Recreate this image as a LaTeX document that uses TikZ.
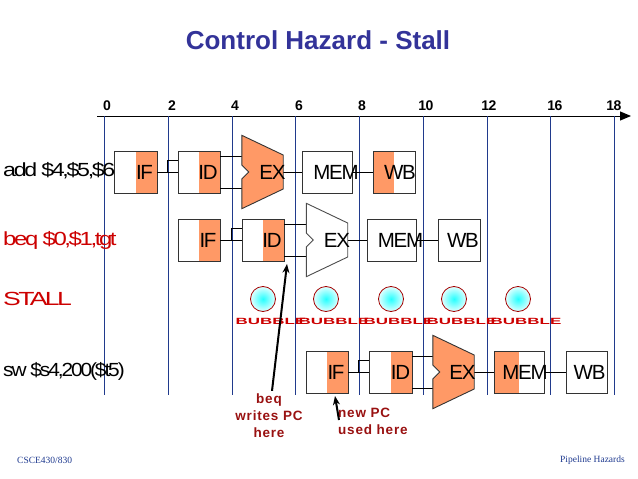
\documentclass[tikz,border=0pt]{standalone}
\usepackage{fontspec}
\setmainfont{Liberation Serif}
\newfontfamily\arial{Liberation Sans}
\newfontfamily\sq[LetterSpace=-6]{Liberation Sans}
\newfontfamily\sqr[LetterSpace=-10]{Liberation Sans}
\newfontfamily\sqb[LetterSpace=-4]{Liberation Sans Bold}
\newfontfamily\spb[LetterSpace=6]{Liberation Sans Bold}
\usetikzlibrary{arrows.meta,calc}
\definecolor{orng}{HTML}{FF9966}
\definecolor{gridc}{HTML}{203A8C}
\definecolor{ttl}{HTML}{333399}
\definecolor{lred}{HTML}{CC0000}
\definecolor{dred}{HTML}{991111}
\definecolor{ftblue}{HTML}{1F3A8F}
\definecolor{boxc}{HTML}{333333}
\newcommand\rl[2]{\scalebox{#1}[1]{#2}}
\newcommand\aluShape[2]{\draw[#2] (#1.north west) -- ($(#1.east)+(0,-17)$) -- ($(#1.east)+(0,17)$) -- (#1.south west) -- ($(#1.west)+(0,7)$) -- ($(#1.west)+(7,0)$) -- ($(#1.west)+(0,-7)$) -- cycle;}
\newcommand\stageLinks[4]{%
  \draw[conn] (#1.east) -- (#2.west);
  \draw[conn] ($(#2.west)+(-10,0)$) |- ($(#2.west)+(0,-12)$);
  \draw[conn] ($(#2.east)+(0,-16)$) -- ($(#3.west)+(0,-16)$);
  \draw[conn] ($(#2.east)+(0,16)$) -- ($(#3.west)+(0,16)$);
  \draw[conn] (#3.east) -- (#4.west);}
\begin{document}
\begin{tikzpicture}[x=1pt,y=-1pt,
  stagebox/.style={draw=boxc, line width=0.9pt, minimum width=42pt, minimum height=42pt, inner sep=0pt, fill=white},
  orR/.style={path picture={\fill[orng] (path picture bounding box.north) rectangle (path picture bounding box.south east);}},
  orL/.style={path picture={\fill[orng] (path picture bounding box.north west) rectangle (path picture bounding box.south);}},
  alunode/.style={minimum width=41pt, minimum height=73pt, inner sep=0pt},
  conn/.style={draw=black, line width=0.7pt},
  stxt/.style={font=\sq\fontsize{20.5}{20.5}\selectfont, inner sep=0pt},
  rowlbl/.style={font=\sqr\fontsize{19}{19}\selectfont, anchor=west, inner sep=0pt},
  gridl/.style={draw=gridc, line width=0.7pt},
  tick/.style={font=\sqb\fontsize{14}{14}\selectfont, inner sep=0pt},
  bubble/.style={circle, draw=lred!80!black, line width=0.8pt, minimum size=25pt, inner sep=0pt, inner color=cyan!85, outer color=cyan!12},
  bubtxt/.style={font=\bfseries\arial\fontsize{15}{15}\selectfont, text=lred, inner sep=0pt},
  ann/.style={font=\spb\fontsize{13.5}{17}\selectfont, text=dred, inner sep=0pt},
  pcarrow/.style={line width=2pt, -{Stealth[length=9pt,width=7pt]}},
  foot/.style={font=\fontsize{9.5}{10}\selectfont, text=ftblue, inner sep=0pt}]
\useasboundingbox (0,0) rectangle (638,479);
% title
\node[font=\arial\bfseries\fontsize{26}{26}\selectfont, text=ttl] (title) at (318,40) {Control Hazard - Stall};
% axis and grid
\draw[line width=1pt, -{Triangle[length=11pt,width=9pt]}] (97,116) -- (631,116);
\foreach \x/\l/\dx in {104/0/3,168/2/4,232/4/3,295/6/4,359/8/3,423/10/3,487/12/2,550/16/5,614/18/0}{
  \draw[gridl] (\x,116) -- (\x,395);
  \node[tick] (tk\l) at (\x+\dx,106) {\l};
}
% row 1
\node[stagebox, orR, minimum width=43pt] (if1) at (135.5,172) {};
\node[stagebox, orR] (id1) at (199,172) {};
\node[alunode] (ex1) at (262.5,172) {};
\node[stagebox, minimum width=50pt] (mem1) at (327,172) {};
\node[stagebox, orL] (wb1) at (394,172) {};
\stageLinks{if1}{id1}{ex1}{mem1}
\draw[conn] (mem1.east) -- (wb1.west);
\aluShape{ex1}{fill=orng, draw=boxc, line width=0.9pt}
\node[stxt] (if1t) at ($(if1)+(9,0)$) {IF};
\node[stxt] (id1t) at ($(id1)+(9,0)$) {ID};
\node[stxt] (ex1t) at ($(ex1)+(10,0)$) {EX};
\node[stxt] (mem1t) at ($(mem1)+(9,0)$) {MEM};
\node[stxt] (wb1t) at ($(wb1)+(6,0)$) {WB};
\node[rowlbl] (lbl1) at (3,171) {\rl{1.22}{add \$4,\$5,\$6}};
% row 2
\node[stagebox, orR] (if2) at (199,240) {};
\node[stagebox, orR] (id2) at (263,240) {};
\node[alunode] (ex2) at (327,240) {};
\node[stagebox, minimum width=49pt] (mem2) at (391.5,240) {};
\node[stagebox] (wb2) at (459,240) {};
\stageLinks{if2}{id2}{ex2}{mem2}
\draw[conn] (mem2.east) -- (wb2.west);
\aluShape{ex2}{fill=white, draw=black!70, line width=0.9pt}
\node[stxt] (if2t) at ($(if2)+(9,0)$) {IF};
\node[stxt] (id2t) at ($(id2)+(9,0)$) {ID};
\node[stxt] (ex2t) at ($(ex2)+(10,0)$) {EX};
\node[stxt] (mem2t) at ($(mem2)+(9,0)$) {MEM};
\node[stxt] (wb2t) at ($(wb2)+(4,0)$) {WB};
\node[rowlbl, text=lred] (lbl2) at (3,240) {\rl{1.26}{beq \$0,\$1,tgt}};
% stall row
\node[rowlbl, text=lred] (lbl3) at (3,299) {\rl{1.4}{STALL}};
\foreach \i/\bx in {1/263,2/326,3/391,4/454,5/518}{
  \node[bubble] (b\i) at (\bx,299) {};
  \node[bubtxt] (bt\i) at (\bx+8,321) {\scalebox{1.13}[0.6]{BUBBLE}};
}
% row 4
\node[stagebox, orR] (if4) at (327,372) {};
\node[stagebox, orR, minimum width=43pt] (id4) at (390.5,372) {};
\node[alunode] (ex4) at (453.5,372) {};
\node[stagebox, orL, minimum width=50pt] (mem4) at (519,372) {};
\node[stagebox, minimum width=41pt] (wb4) at (586.5,372) {};
\stageLinks{if4}{id4}{ex4}{mem4}
\draw[conn] (mem4.east) -- (wb4.west);
\aluShape{ex4}{fill=orng, draw=boxc, line width=0.9pt}
\node[stxt] (if4t) at ($(if4)+(9,0)$) {IF};
\node[stxt] (id4t) at ($(id4)+(10,0)$) {ID};
\node[stxt] (ex4t) at ($(ex4)+(9,0)$) {EX};
\node[stxt] (mem4t) at ($(mem4)+(6,0)$) {MEM};
\node[stxt] (wb4t) at ($(wb4)+(3,0)$) {WB};
\node[rowlbl] (lbl4) at (3,371) {\rl{1.1}{sw \$s4,200(\$t5)}};
% annotations
\node[ann, align=center] (ann1) at (269,416) {beq\\writes PC\\here};
\coordinate (pcw) at (287,264);
\draw[pcarrow] ($(ann1.north)+(3,-3)$) -- (pcw);
\node[ann, align=left, anchor=west] (ann2) at (338,421.5) {new PC\\used here};
\coordinate (pcu) at (335,396);
\draw[pcarrow] ($(ann2.north west)+(1,12)$) -- (pcu);
% footer
\node[foot, anchor=west] (f1) at (17,460) {CSCE430/830};
\node[foot, anchor=east] (f2) at (625,460) {Pipeline Hazards};
\end{tikzpicture}
\end{document}
